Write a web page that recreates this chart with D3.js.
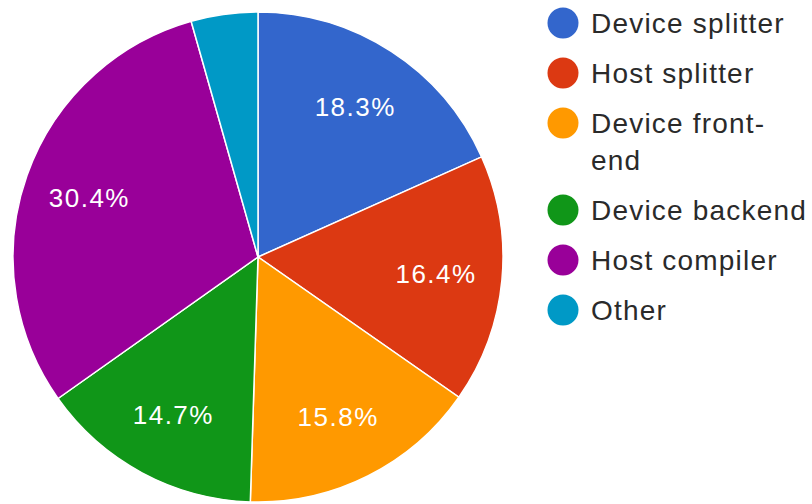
<!DOCTYPE html>
<html>
<head>
<meta charset="utf-8">
<script src="https://cdn.jsdelivr.net/npm/d3@7"></script>
<style>
  html, body { margin: 0; padding: 0; background: #fff; }
  svg { display: block; }
</style>
</head>
<body>
<svg id="chart" width="812" height="504"></svg>
<script>
// Share of compile time by stage
const categories = ["Device splitter", "Host splitter", "Device front-end", "Device backend", "Host compiler", "Other"];
const values = [18.3, 16.4, 15.8, 14.7, 30.4, 4.4];
const colors = ["#3366cc", "#dc3912", "#ff9900", "#109618", "#990099", "#0099c6"];
// Legend entries, wrapped where the text is too long for the column
const legendLines = [["Device splitter"], ["Host splitter"], ["Device front-", "end"], ["Device backend"], ["Host compiler"], ["Other"]];

const svg = d3.select("#chart");
const cx = 258, cy = 257, R = 245;
const font = "Arial, 'Liberation Sans', sans-serif";

const data = categories.map((c, i) => ({ name: c, value: values[i], color: colors[i] }));
const total = d3.sum(values);

const pie = d3.pie().value(d => d.value).sort(null);
const arc = d3.arc().innerRadius(0).outerRadius(R);
const labelArc = d3.arc().innerRadius(R * 0.73).outerRadius(R * 0.73);

const g = svg.append("g").attr("transform", `translate(${cx},${cy})`);
const arcs = pie(data);

g.selectAll("path.slice")
  .data(arcs)
  .join("path")
  .attr("class", "slice")
  .attr("d", arc)
  .attr("fill", d => d.data.color)
  .attr("stroke", "#ffffff")
  .attr("stroke-width", 1.5);

// Percentage labels, skipped on slices too thin to hold them
g.selectAll("text.pct")
  .data(arcs.filter(d => d.data.value / total >= 0.08))
  .join("text")
  .attr("class", "pct")
  .attr("transform", d => `translate(${labelArc.centroid(d)})`)
  .attr("text-anchor", "middle")
  .attr("dy", "0.36em")
  .attr("font-family", font)
  .attr("font-size", 26)
  .attr("letter-spacing", 1.5)
  .attr("fill", "#ffffff")
  .text(d => (d.data.value / total * 100).toFixed(1) + "%");

// Legend
const legendX = 563, textX = 591, lineH = 37, rowGap = 50;
let y = 23;
const legend = svg.append("g");
legendLines.forEach((lines, i) => {
  const row = legend.append("g");
  row.append("circle")
    .attr("cx", legendX).attr("cy", y).attr("r", 15.5)
    .attr("fill", colors[i]);
  lines.forEach((t, k) => {
    row.append("text")
      .attr("x", textX).attr("y", y + k * lineH)
      .attr("dy", "0.36em")
      .attr("font-family", font)
      .attr("font-size", 28)
      .attr("letter-spacing", 1.2)
      .attr("fill", "#2a2a2a")
      .text(t);
  });
  y += rowGap + (lines.length - 1) * lineH;
});
</script>
</body>
</html>
